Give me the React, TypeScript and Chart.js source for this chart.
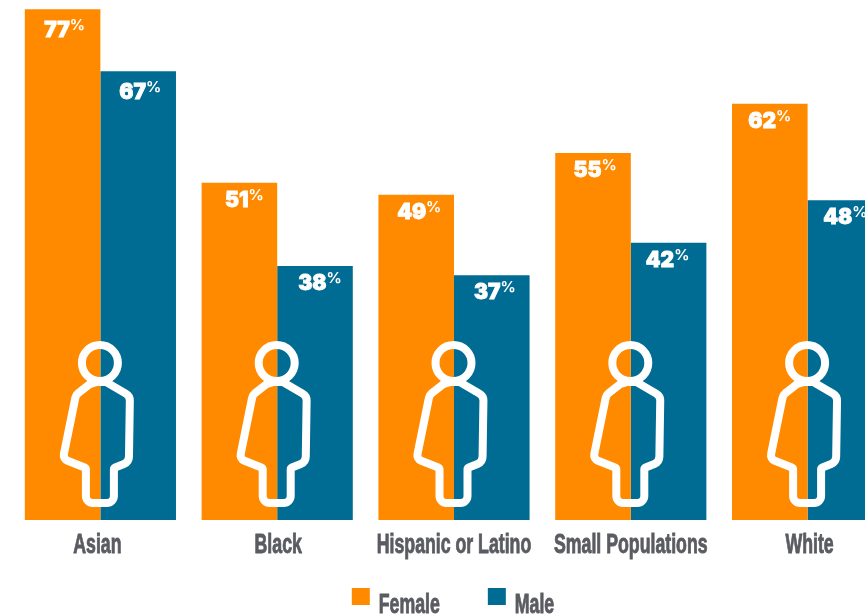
import { useEffect, useRef } from "react";
import { Chart, registerables } from "chart.js";

Chart.register(...registerables);

const categories = ["Asian", "Black", "Hispanic or Latino", "Small Populations", "White"];
const seriesNames = ["Female", "Male"];
const femaleValues = [76.8, 50.7, 48.9, 55.2, 62.6];
const maleValues = [67.5, 38.2, 36.8, 41.7, 48.1];
const femaleLabels = ["77", "51", "49", "55", "62"];
const maleLabels = ["67", "38", "37", "42", "48"];
const seriesLabels = [femaleLabels, maleLabels];

const ORANGE = "#FF8A00";
const BLUE = "#006C93";
const GREY = "#5A5C62";
const LABEL_FONT = "bold 27px 'Liberation Sans', sans-serif";
const SQUEEZE = 0.656;
const labelNudge = [-3, 1, 0, 0, 2];
const valueNudgeX = [
  [0, 3, 1, 0, -2],
  [0, 3, 1, -3, -2],
];

function squeezedText(ctx: any, text: string, x: number, y: number, align: "left" | "center") {
  ctx.save();
  ctx.font = LABEL_FONT;
  ctx.textAlign = align;
  ctx.textBaseline = "alphabetic";
  ctx.fillStyle = GREY;
  ctx.strokeStyle = GREY;
  ctx.lineWidth = 0.9;
  ctx.translate(x, y);
  ctx.scale(SQUEEZE, 1);
  ctx.fillText(text, 0, 0);
  ctx.strokeText(text, 0, 0);
  ctx.restore();
}

const valueLabels = {
  id: "valueLabels",
  afterDatasetsDraw(chart: any) {
    const ctx = chart.ctx;
    ctx.save();
    ctx.fillStyle = "#fff";
    ctx.strokeStyle = "#fff";
    ctx.textBaseline = "alphabetic";
    ctx.textAlign = "left";
    const big = "900 21px Inter, 'DejaVu Sans', sans-serif";
    const small = "700 15px Inter, 'DejaVu Sans', sans-serif";
    chart.data.datasets.forEach((_: any, di: number) => {
      chart.getDatasetMeta(di).data.forEach((bar: any, i: number) => {
        const num = seriesLabels[di][i];
        ctx.font = big;
        const w = ctx.measureText(num).width;
        ctx.font = small;
        const pw = ctx.measureText("%").width;
        const left = bar.x + 2 + valueNudgeX[di][i] - (w + pw) / 2;
        const base = bar.y + (i === 0 ? 28 : 24);
        ctx.font = big;
        ctx.lineWidth = 0.8;
        ctx.fillText(num, left, base);
        ctx.strokeText(num, left, base);
        ctx.font = small;
        ctx.fillText("%", left + w, base - 7);
      });
    });
    ctx.restore();
  },
};

const personIcons = {
  id: "personIcons",
  afterDatasetsDraw(chart: any) {
    const ctx = chart.ctx;
    const xScale = chart.scales.x;
    const bottom = chart.scales.y.getPixelForValue(0);
    ctx.save();
    ctx.strokeStyle = "#fff";
    ctx.lineWidth = 8;
    ctx.lineJoin = "round";
    categories.forEach((_, i) => {
      const cx = xScale.getPixelForTick(i) - 0.5;
      const y0 = bottom;
      ctx.beginPath();
      ctx.arc(cx, y0 - 157, 18, 0, Math.PI * 2);
      ctx.stroke();
      const pts: [number, number][] = [
        [-3, -138],
        [6, -138],
        [30, -124],
        [29, -58],
        [14, -52],
        [14, -17],
        [-14, -17],
        [-14, -52],
        [-37, -61],
        [-24, -125],
        [-10, -136],
      ];
      const radii = [0, 3, 8, 8, 2, 7, 7, 2, 6, 8, 3];
      ctx.beginPath();
      ctx.moveTo(cx + pts[0][0], y0 + pts[0][1]);
      for (let k = 1; k <= pts.length; k++) {
        const p = pts[k % pts.length];
        const q = pts[(k + 1) % pts.length];
        ctx.arcTo(cx + p[0], y0 + p[1], cx + q[0], y0 + q[1], radii[k % pts.length]);
      }
      ctx.closePath();
      ctx.stroke();
    });
    ctx.restore();
  },
};

const axisAndLegendText = {
  id: "axisAndLegendText",
  afterDraw(chart: any) {
    const ctx = chart.ctx;
    const xScale = chart.scales.x;
    const area = chart.chartArea;
    categories.forEach((name, i) => {
      squeezedText(ctx, name, xScale.getPixelForTick(i) + labelNudge[i], area.bottom + 33, "center");
    });
    ctx.save();
    ctx.font = LABEL_FONT;
    const widths = seriesNames.map((n) => ctx.measureText(n).width * SQUEEZE);
    const box = 18;
    const gap = 9;
    const between = 48;
    const total = widths.reduce((a, w) => a + w + box + gap, between);
    let x = (area.left + area.right) / 2 - total / 2 - 1;
    chart.data.datasets.forEach((ds: any, i: number) => {
      ctx.fillStyle = ds.backgroundColor;
      ctx.fillRect(x, area.bottom + 68, box, 17);
      squeezedText(ctx, seriesNames[i], x + box + gap, area.bottom + 93, "left");
      x += box + gap + widths[i] + between;
    });
    ctx.restore();
  },
};

export default function App() {
  const ref = useRef<HTMLCanvasElement>(null);
  useEffect(() => {
    const chart = new Chart(ref.current!, {
      type: "bar",
      data: {
        labels: categories,
        datasets: [
          { label: seriesNames[0], data: femaleValues, backgroundColor: ORANGE },
          { label: seriesNames[1], data: maleValues, backgroundColor: BLUE },
        ],
      },
      options: {
        responsive: false,
        animation: false,
        layout: { padding: { left: 12, right: 10, top: 0, bottom: 87 } },
        datasets: { bar: { barPercentage: 1, categoryPercentage: 0.855 } },
        plugins: {
          tooltip: { enabled: false },
          legend: { display: false },
        },
        scales: {
          x: {
            grid: { display: false },
            border: { display: false },
            ticks: { display: false },
          },
          y: { display: false, min: 0, max: 78.2 },
        },
      },
      plugins: [personIcons, valueLabels, axisAndLegendText],
    } as any);
    return () => chart.destroy();
  }, []);
  return (
    <div style={{ position: "fixed", left: 0, top: 0, width: 865, height: 615, overflow: "hidden", background: "#fff" }}>
      <canvas ref={ref} width={906} height={615} style={{ display: "block" }} />
    </div>
  );
}
